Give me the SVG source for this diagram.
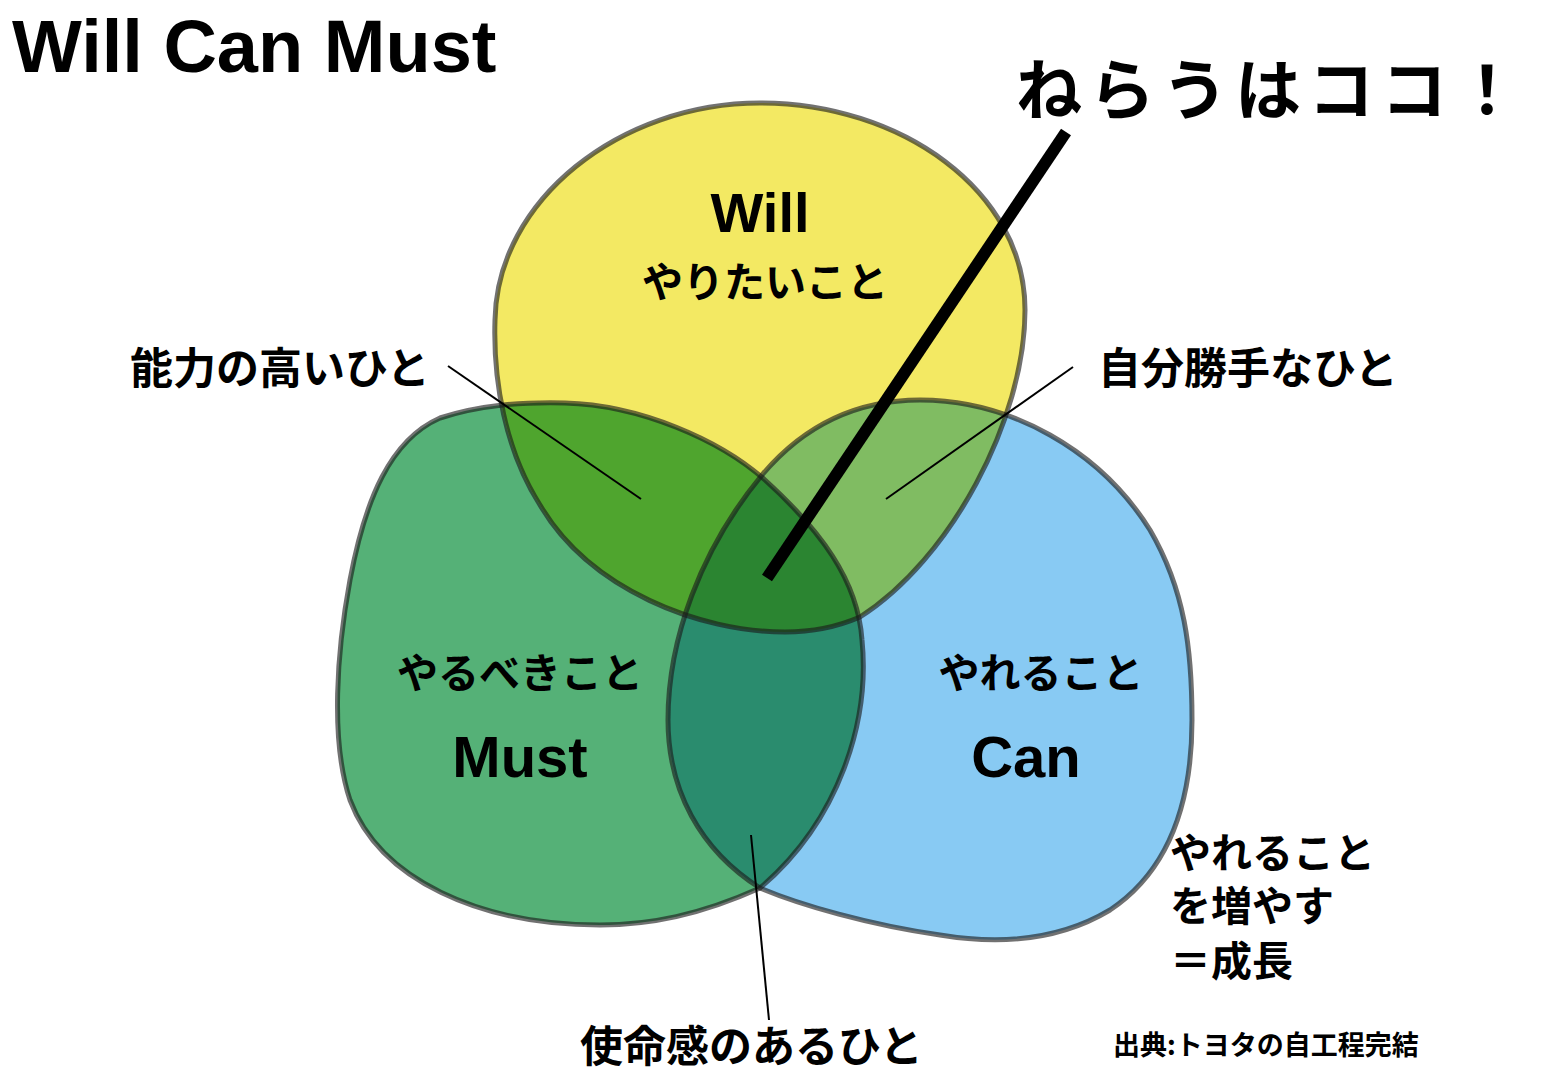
<svg xmlns="http://www.w3.org/2000/svg" width="1560" height="1080" viewBox="0 0 1560 1080">
<style>
.jp{font-family:"Noto Sans CJK JP","Noto Sans",sans-serif;font-weight:700;fill:#000}
.en{font-family:"Liberation Sans",Arial,sans-serif;font-weight:700;fill:#000}
.ol{fill:none;stroke:#1a1a1a;stroke-opacity:0.62;stroke-width:5}
.ptr{stroke:#000;stroke-width:2;fill:none}
</style>
<defs>
<path id="pWill" d="M760,103 C900,103 1025,190 1025,310 C1025,420 950,560 860,617 C830,630 805,632 785,632 C700,632 590,590 540,505 C505,450 493,380 495,320 C497,200 620,103 760,103 Z"/>
<path id="pMust" d="M565,403 C640,405 720,440 765,480 C820,530 858,580 862,640 C870,720 840,820 760,888 C700,915 650,925 600,925 C480,925 380,880 350,800 C330,740 337,650 350,580 C365,500 390,440 440,418 C480,405 520,402 565,403 Z"/>
<path id="pCan" d="M762,475 C800,430 850,400 920,400 C1010,400 1100,450 1150,530 C1185,590 1192,650 1192,720 C1192,800 1170,870 1110,910 C1060,940 1000,945 940,935 C870,925 800,905 760,888 C700,850 668,790 668,720 C668,640 700,550 762,475 Z"/>
<clipPath id="cWill"><use href="#pWill"/></clipPath>
<clipPath id="cMust"><use href="#pMust"/></clipPath>
</defs>

<g id="blobs">
<g id="must"><use href="#pMust" fill="#55B177"/></g>
<g id="can"><use href="#pCan" fill="#88CAF3"/></g>
<g id="will"><use href="#pWill" fill="#F3E963"/></g>
<g id="will-must" clip-path="url(#cWill)"><use href="#pMust" fill="#4FA52E"/></g>
<g id="will-can" clip-path="url(#cWill)"><use href="#pCan" fill="#80BC62"/></g>
<g id="must-can" clip-path="url(#cMust)"><use href="#pCan" fill="#2A8C6E"/></g>
<g id="all" clip-path="url(#cMust)"><g clip-path="url(#cWill)"><use href="#pCan" fill="#2B8531"/></g></g>
<use href="#pMust" class="ol"/>
<use href="#pCan" class="ol"/>
<use href="#pWill" class="ol"/>
</g>

<g id="connectors">
<line class="ptr" x1="448" y1="366" x2="641" y2="499"/>
<line class="ptr" x1="1073" y1="367" x2="886" y2="499"/>
<line class="ptr" x1="751" y1="835" x2="769" y2="1020"/>
<line x1="1066" y1="132" x2="767" y2="578" stroke="#000" stroke-width="12"/>
</g>

<g id="title"><text class="en" x="12" y="72" font-size="74">Will Can Must</text></g>
<g id="target"><text class="jp" x="1016" y="114" font-size="66" textLength="504" lengthAdjust="spacing">ねらうはココ！</text></g>
<g id="will-label">
<text class="en" x="760" y="232" font-size="56" text-anchor="middle">Will</text>
<text class="jp" x="765" y="297" font-size="41" text-anchor="middle">やりたいこと</text>
</g>
<g id="must-label">
<text class="jp" x="520" y="688" font-size="41" text-anchor="middle">やるべきこと</text>
<text class="en" x="520" y="777" font-size="58" text-anchor="middle">Must</text>
</g>
<g id="can-label">
<text class="jp" x="1041" y="688" font-size="41" text-anchor="middle">やれること</text>
<text class="en" x="1026" y="777" font-size="58" text-anchor="middle">Can</text>
</g>
<g id="label-ability"><text class="jp" x="130" y="384" font-size="43">能力の高いひと</text></g>
<g id="label-selfish"><text class="jp" x="1098" y="384" font-size="43">自分勝手なひと</text></g>
<g id="label-mission"><text class="jp" x="580" y="1062" font-size="43">使命感のあるひと</text></g>
<g id="growth">
<text class="jp" x="1170" y="868" font-size="41">やれること</text>
<text class="jp" x="1170" y="921" font-size="41">を増やす</text>
<text class="jp" x="1170" y="976" font-size="41">＝成長</text>
</g>
<g id="source"><text class="jp" x="1113" y="1055" font-size="27">出典:トヨタの自工程完結</text></g>
</svg>
